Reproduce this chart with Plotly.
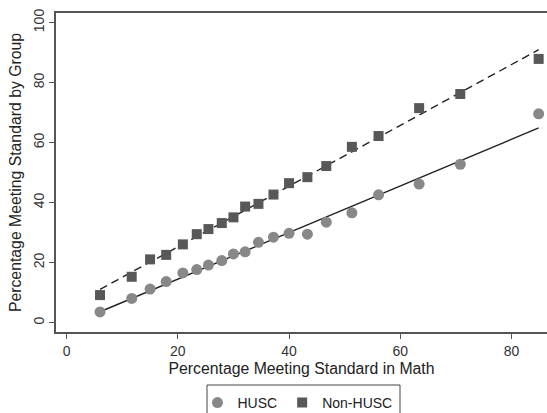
import numpy as np
import plotly.graph_objects as go

math_pct = [6.0, 11.7, 15.0, 17.9, 20.9, 23.4, 25.5, 27.9, 30.0, 32.1,
            34.5, 37.2, 40.0, 43.3, 46.7, 51.3, 56.1, 63.4, 70.8, 84.9]
husc = [3.6, 8.1, 11.2, 13.7, 16.6, 17.7, 19.2, 20.7, 22.9, 23.6,
        26.8, 28.5, 29.8, 29.5, 33.5, 36.6, 42.6, 46.2, 52.8, 69.6]
non_husc = [9.2, 15.3, 21.1, 22.6, 26.1, 29.5, 31.2, 33.2, 35.1, 38.7,
            39.6, 42.7, 46.5, 48.5, 52.2, 58.6, 62.2, 71.5, 76.2, 87.9]
x_ticks = [0, 20, 40, 60, 80]
y_ticks = [0, 20, 40, 60, 80, 100]

x = np.array(math_pct)
xs = np.array([x.min(), x.max()])
b1 = np.polyfit(x, husc, 1)
b2 = np.polyfit(x, non_husc, 1)

fig = go.Figure()
fig.add_trace(go.Scatter(x=xs, y=np.polyval(b1, xs), mode="lines",
                         line=dict(color="#222222", width=1.4), showlegend=False))
fig.add_trace(go.Scatter(x=xs, y=np.polyval(b2, xs), mode="lines",
                         line=dict(color="#222222", width=1.4, dash="8px,5px"), showlegend=False))
fig.add_trace(go.Scatter(x=math_pct, y=husc, mode="markers", name="HUSC",
                         marker=dict(symbol="circle", size=11, color="#888888")))
fig.add_trace(go.Scatter(x=math_pct, y=non_husc, mode="markers", name="Non-HUSC",
                         marker=dict(symbol="square", size=10, color="#585858")))

# legend frame (plot area: 56..547 px wide, 13..332 px tall)
L, W, B, H = 56, 491, 332, 319
fig.add_shape(type="rect", xref="paper", yref="paper",
              x0=(207 - L) / W, x1=(400 - L) / W,
              y0=(B - 420) / H, y1=(B - 385) / H,
              line=dict(color="#444444", width=1), fillcolor="rgba(0,0,0,0)")

axis_font = dict(family="Liberation Sans, Arial, sans-serif", size=14, color="#333333")
fig.update_layout(
    width=547, height=413,
    margin=dict(l=56, r=0, t=13, b=81),
    plot_bgcolor="white", paper_bgcolor="white",
    font=dict(family="Liberation Sans, Arial, sans-serif", color="#222222"),
    xaxis=dict(range=[-1.92, 86.4], tickvals=x_ticks, showgrid=False, zeroline=False,
               showline=True, linecolor="#555555", linewidth=1.5, mirror=True,
               ticks="outside", ticklen=5, tickcolor="#555555", tickfont=axis_font,
               automargin=False,
               title=dict(text="Percentage Meeting Standard in Math",
                          font=dict(size=15.8, color="#222222"), standoff=5)),
    yaxis=dict(range=[-3.1, 103.2], tickvals=y_ticks, showgrid=False, zeroline=False,
               showline=True, linecolor="#555555", linewidth=1.5,
               ticks="outside", ticklen=5, tickcolor="#555555", tickfont=axis_font,
               tickangle=-90, automargin=False,
               title=dict(text="Percentage Meeting Standard by Group",
                          font=dict(size=15.8, color="#222222"), standoff=5)),
    legend=dict(orientation="h", x=0.5 - 4 / 491, xanchor="center",
                yref="container", y=1 - 387 / 413, yanchor="top",
                itemwidth=30, borderwidth=0, bgcolor="rgba(0,0,0,0)",
                font=dict(size=14, color="#222222")),
)

fig.write_html("out.html")
